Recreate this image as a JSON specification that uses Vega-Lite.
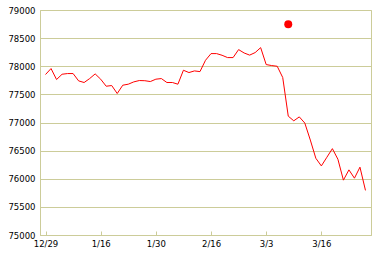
{
  "$schema": "https://vega.github.io/schema/vega-lite/v6.json",
  "width": 331,
  "height": 225,
  "autosize": {"type": "none"},
  "padding": {"left": 40, "top": 10, "right": 11, "bottom": 23},
  "background": "white",
  "config": {
    "view": {"stroke": "#cccc99", "strokeWidth": 1},
    "axis": {
      "labelFont": "DejaVu Sans",
      "labelFontSize": 8.5,
      "labelColor": "black",
      "gridColor": "#cccc99",
      "gridOpacity": 1,
      "domainColor": "#cccc99",
      "tickColor": "#cccc99",
      "labelOverlap": false,
      "title": null
    }
  },
  "datasets": {
    "line": [
      {"i": 0, "v": 77853}, {"i": 1, "v": 77959}, {"i": 2, "v": 77764}, {"i": 3, "v": 77858},
      {"i": 4, "v": 77870}, {"i": 5, "v": 77870}, {"i": 6, "v": 77740}, {"i": 7, "v": 77711},
      {"i": 8, "v": 77781}, {"i": 9, "v": 77864}, {"i": 10, "v": 77770}, {"i": 11, "v": 77645},
      {"i": 12, "v": 77657}, {"i": 13, "v": 77515}, {"i": 14, "v": 77663}, {"i": 15, "v": 77681},
      {"i": 16, "v": 77722}, {"i": 17, "v": 77746}, {"i": 18, "v": 77743}, {"i": 19, "v": 77728},
      {"i": 20, "v": 77770}, {"i": 21, "v": 77781}, {"i": 22, "v": 77711}, {"i": 23, "v": 77711},
      {"i": 24, "v": 77681}, {"i": 25, "v": 77929}, {"i": 26, "v": 77888}, {"i": 27, "v": 77917},
      {"i": 28, "v": 77905}, {"i": 29, "v": 78106}, {"i": 30, "v": 78225}, {"i": 31, "v": 78225},
      {"i": 32, "v": 78195}, {"i": 33, "v": 78154}, {"i": 34, "v": 78154}, {"i": 35, "v": 78296},
      {"i": 36, "v": 78236}, {"i": 37, "v": 78198}, {"i": 38, "v": 78243}, {"i": 39, "v": 78331},
      {"i": 40, "v": 78030}, {"i": 41, "v": 78012}, {"i": 42, "v": 78000}, {"i": 43, "v": 77800},
      {"i": 44, "v": 77113}, {"i": 45, "v": 77030}, {"i": 46, "v": 77100}, {"i": 47, "v": 76990},
      {"i": 48, "v": 76688}, {"i": 49, "v": 76364}, {"i": 50, "v": 76228}, {"i": 51, "v": 76382},
      {"i": 52, "v": 76535}, {"i": 53, "v": 76347}, {"i": 54, "v": 75975}, {"i": 55, "v": 76158},
      {"i": 56, "v": 76010}, {"i": 57, "v": 76206}, {"i": 58, "v": 75793}
    ],
    "dot": [{"i": 44, "v": 78745}]
  },
  "encoding": {
    "x": {
      "field": "i", "type": "quantitative",
      "scale": {"domain": [-1, 59], "nice": false, "zero": false},
      "axis": {
        "values": [0, 10, 20, 30, 40, 50],
        "grid": false,
        "tickSize": -4,
        "labelPadding": 8,
        "labelExpr": "datum.value == 0 ? '12/29' : datum.value == 10 ? '1/16' : datum.value == 20 ? '1/30' : datum.value == 30 ? '2/16' : datum.value == 40 ? '3/3' : '3/16'"
      }
    },
    "y": {
      "field": "v", "type": "quantitative",
      "scale": {"domain": [75000, 79000], "nice": false, "zero": false},
      "axis": {
        "values": [75000, 75500, 76000, 76500, 77000, 77500, 78000, 78500, 79000],
        "format": "d",
        "ticks": false,
        "labelPadding": 5,
        "grid": true
      }
    }
  },
  "layer": [
    {
      "data": {"name": "line"},
      "mark": {"type": "line", "color": "#ff0000", "strokeWidth": 1, "interpolate": "linear"}
    },
    {
      "data": {"name": "dot"},
      "mark": {"type": "circle", "color": "#ff0000", "opacity": 1, "size": 64}
    }
  ]
}
